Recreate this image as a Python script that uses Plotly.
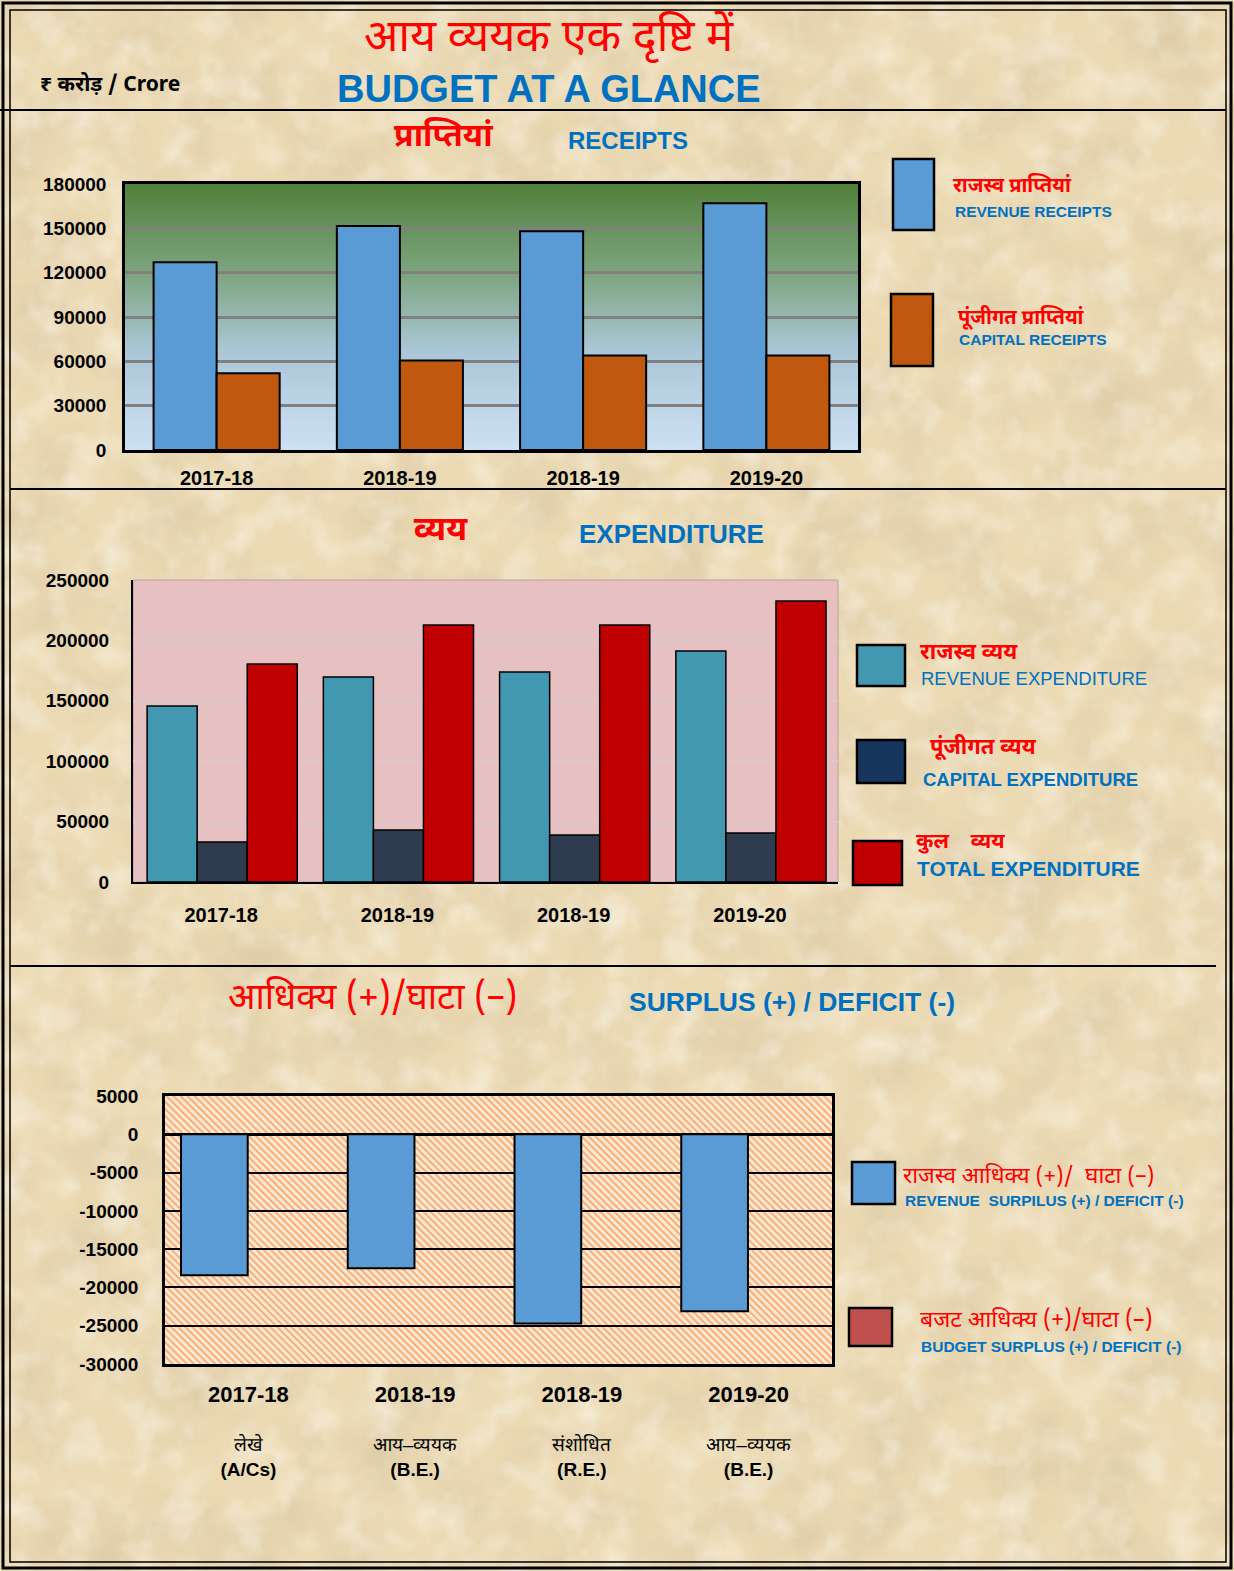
import base64
import plotly.graph_objects as go

W, H = 1234, 1571

# ---------------- data ----------------
years = ["2017-18", "2018-19", "2018-19", "2019-20"]
stage_hi = ["लेखे", "आय–व्ययक", "संशोधित", "आय–व्ययक"]
stage_en = ["(A/Cs)", "(B.E.)", "(R.E.)", "(B.E.)"]

revenue_receipts = [127000, 151500, 148000, 167000]
capital_receipts = [52000, 60500, 64000, 64000]

revenue_exp = [145700, 169700, 173800, 191200]
capital_exp = [33100, 43000, 38900, 40600]
total_exp = [180400, 212700, 212700, 232600]

revenue_deficit = [-18400, -17500, -24700, -23100]
budget_deficit = [None, None, None, None]

y1_ticks = [0, 30000, 60000, 90000, 120000, 150000, 180000]
y2_ticks = [0, 50000, 100000, 150000, 200000, 250000]
y3_ticks = [5000, 0, -5000, -10000, -15000, -20000, -25000, -30000]

pos = list(range(len(years)))

HI = "Noto Sans Devanagari, Lohit Devanagari, Noto Sans, sans-serif"
EN = "Liberation Sans, Arial, sans-serif"
NARROW = "Liberation Sans Narrow, Arial Narrow, Liberation Sans, sans-serif"
RED = "#FF0000"
BLUE = "#0070C0"


def fx(p):
    return p / W


def fy(p):
    return 1 - p / H


def uri(svg):
    return "data:image/svg+xml;base64," + base64.b64encode(svg.encode("utf-8")).decode()


texture = f"""<svg xmlns='http://www.w3.org/2000/svg' width='{W}' height='{H}'>
<filter id='n' x='0' y='0' width='100%' height='100%'>
<feTurbulence type='fractalNoise' baseFrequency='0.014' numOctaves='5' seed='7'/>
<feColorMatrix type='matrix' values='0 0 0 0 0.62  0 0 0 0 0.50  0 0 0 0 0.32  0.9 0 0 0 -0.38'/>
</filter>
<filter id='m' x='0' y='0' width='100%' height='100%'>
<feTurbulence type='fractalNoise' baseFrequency='0.03' numOctaves='3' seed='2'/>
<feColorMatrix type='matrix' values='0 0 0 0 1  0 0 0 0 0.98  0 0 0 0 0.92  0 1.0 0 0 -0.45'/>
</filter>
<rect width='100%' height='100%' fill='#EBDAB4'/>
<rect width='100%' height='100%' filter='url(#n)'/>
<rect width='100%' height='100%' filter='url(#m)'/>
</svg>"""

grad = """<svg xmlns='http://www.w3.org/2000/svg' width='733' height='266'>
<defs><linearGradient id='g' x1='0' y1='0' x2='0' y2='1'>
<stop offset='0' stop-color='#52803A'/><stop offset='0.35' stop-color='#7FA683'/>
<stop offset='0.62' stop-color='#AAC6D6'/><stop offset='1' stop-color='#CDE0F4'/>
</linearGradient></defs><rect width='100%' height='100%' fill='url(#g)'/></svg>"""

hatch = """<svg xmlns='http://www.w3.org/2000/svg' width='667' height='268'>
<defs><pattern id='p' width='5' height='5' patternUnits='userSpaceOnUse' patternTransform='rotate(-45)'>
<rect width='5' height='5' fill='#FDE8D2'/><rect width='2' height='5' fill='#F7AF7A'/></pattern></defs>
<rect width='100%' height='100%' fill='url(#p)'/></svg>"""

fig = go.Figure()

# ---------- chart 1: receipts ----------
bw1 = 0.344
fig.add_trace(go.Bar(x=pos, y=revenue_receipts, width=bw1, offset=-bw1, marker=dict(color="#5B9BD5", line=dict(color="black", width=2)),
                     xaxis="x", yaxis="y", showlegend=False, hoverinfo="y"))
fig.add_trace(go.Bar(x=pos, y=capital_receipts, width=bw1, offset=0, marker=dict(color="#C0580F", line=dict(color="black", width=2)),
                     xaxis="x", yaxis="y", showlegend=False, hoverinfo="y"))

# ---------- chart 2: expenditure ----------
bw2 = 0.284
fig.add_trace(go.Bar(x=pos, y=revenue_exp, width=bw2, offset=-0.42, marker=dict(color="#4298B0", line=dict(color="black", width=1.5)),
                     xaxis="x2", yaxis="y2", showlegend=False, hoverinfo="y"))
fig.add_trace(go.Bar(x=pos, y=capital_exp, width=bw2, offset=-0.42 + bw2, marker=dict(color="#2F3C50", line=dict(color="black", width=1.5)),
                     xaxis="x2", yaxis="y2", showlegend=False, hoverinfo="y"))
fig.add_trace(go.Bar(x=pos, y=total_exp, width=bw2, offset=-0.42 + 2 * bw2, marker=dict(color="#C00000", line=dict(color="black", width=1.5)),
                     xaxis="x2", yaxis="y2", showlegend=False, hoverinfo="y"))

# ---------- chart 3: surplus / deficit ----------
bw3 = 0.40
fig.add_trace(go.Bar(x=pos, y=revenue_deficit, width=bw3, offset=-0.404, marker=dict(color="#5B9BD5", line=dict(color="black", width=2)),
                     xaxis="x3", yaxis="y3", showlegend=False, hoverinfo="y"))
fig.add_trace(go.Bar(x=pos, y=budget_deficit, width=bw3, offset=-0.004, marker=dict(color="#C0504D", line=dict(color="black", width=2)),
                     xaxis="x3", yaxis="y3", showlegend=False, hoverinfo="y"))

tickfont = dict(family=NARROW, size=19, color="black")
tickfont_x = dict(family=NARROW, size=20, color="black")


def ylabels(vals):
    return [f"<b>{v}</b>" for v in vals]


ticktext3 = [f"<b style='font-size:22px'>{y}</b><br> <br>{h}<br><b>{e}</b>"
             for y, h, e in zip(years, stage_hi, stage_en)]

fig.update_layout(
    width=W, height=H, margin=dict(l=0, r=0, t=0, b=0, pad=0, autoexpand=False),
    paper_bgcolor="#EBDAB4", plot_bgcolor="rgba(0,0,0,0)",
    barmode="overlay",
    xaxis=dict(domain=[fx(125), fx(858)], range=[-0.5, 3.5], tickvals=pos, ticktext=[f"<b>{y}</b>" for y in years],
               tickfont=tickfont_x, showline=True, mirror=True, linecolor="black", linewidth=2.5, ticks="", showgrid=False,
               anchor="y", fixedrange=True, automargin=False, ticklabelstandoff=8),
    yaxis=dict(domain=[fy(450), fy(184)], range=[0, 180000], tickvals=y1_ticks, ticktext=ylabels(y1_ticks), tickfont=tickfont,
               showline=True, mirror=True, linecolor="black", linewidth=2.5, gridcolor="#808080", gridwidth=2.5,
               zeroline=False, anchor="x", ticklabelstandoff=12, fixedrange=True, automargin=False),
    xaxis2=dict(domain=[fx(133), fx(838)], range=[-0.5, 3.5], tickvals=pos, ticktext=[f"<b>{y}</b>" for y in years],
                tickfont=tickfont_x, showline=True, linecolor="black", linewidth=2, ticks="", showgrid=False,
                anchor="y2", fixedrange=True, automargin=False, ticklabelstandoff=14),
    yaxis2=dict(domain=[fy(882), fy(580)], range=[0, 250000], tickvals=y2_ticks, ticktext=ylabels(y2_ticks), tickfont=tickfont,
                showline=True, linecolor="black", linewidth=2, gridcolor="#D9C9CA", gridwidth=1.5,
                zeroline=False, anchor="x2", ticklabelstandoff=18, fixedrange=True, automargin=False),
    xaxis3=dict(domain=[fx(165), fx(832)], range=[-0.5, 3.5], tickvals=pos, ticktext=ticktext3,
                tickfont=dict(family=NARROW, size=19, color="black"), showline=True, mirror=True, linecolor="black",
                linewidth=2.5, ticks="", showgrid=False, anchor="y3", ticklabelstandoff=12, fixedrange=True, automargin=False),
    yaxis3=dict(domain=[fy(1364), fy(1096)], range=[-30000, 5000], tickvals=y3_ticks, ticktext=ylabels(y3_ticks), tickfont=tickfont,
                showline=True, mirror=True, linecolor="black", linewidth=2.5, gridcolor="black", gridwidth=1.5,
                zeroline=True, zerolinecolor="black", zerolinewidth=2.5, anchor="x3", ticklabelstandoff=20, fixedrange=True,
                automargin=False),
)

# ---------- background images ----------
fig.add_layout_image(source=uri(texture), xref="paper", yref="paper", x=0, y=1, sizex=1, sizey=1,
                     sizing="stretch", xanchor="left", yanchor="top", layer="below")
fig.add_layout_image(source=uri(grad), xref="paper", yref="paper", x=fx(125), y=fy(184), sizex=fx(858) - fx(125),
                     sizey=fy(184) - fy(450), sizing="stretch", xanchor="left", yanchor="top", layer="below")
fig.add_layout_image(source=uri(hatch), xref="paper", yref="paper", x=fx(165), y=fy(1096), sizex=fx(832) - fx(165),
                     sizey=fy(1096) - fy(1364), sizing="stretch", xanchor="left", yanchor="top", layer="below")

shapes = []
# pink background of chart 2
shapes.append(dict(type="rect", xref="paper", yref="paper", x0=fx(133), x1=fx(838), y0=fy(882), y1=fy(580),
                   fillcolor="#E7C1C1", line=dict(color="#B8A0A0", width=1), layer="below"))

# page borders
shapes.append(dict(type="rect", xref="paper", yref="paper", x0=fx(3), x1=fx(1231), y0=fy(1568), y1=fy(3),
                   line=dict(color="black", width=3), layer="above"))
shapes.append(dict(type="rect", xref="paper", yref="paper", x0=fx(10), x1=fx(1226), y0=fy(1562), y1=fy(10),
                   line=dict(color="black", width=1.5), layer="above"))
# separators
for y0, xa, xb in [(110, 0, 1226), (489, 10, 1226), (966, 10, 1216)]:
    shapes.append(dict(type="line", xref="paper", yref="paper", x0=fx(xa), x1=fx(xb), y0=fy(y0), y1=fy(y0),
                       line=dict(color="black", width=2), layer="above"))


def box(x0, x1, y0, y1, color):
    shapes.append(dict(type="rect", xref="paper", yref="paper", x0=fx(x0), x1=fx(x1), y0=fy(y1), y1=fy(y0),
                       fillcolor=color, line=dict(color="black", width=2.5), layer="above"))


box(893, 934, 159, 230, "#5B9BD5")
box(891, 933, 294, 366, "#C0580F")
box(857, 905, 645, 686, "#4298B0")
box(857, 905, 740, 783, "#17365D")
box(853, 902, 841, 885, "#C00000")
box(852, 895, 1162, 1204, "#5B9BD5")
box(849, 892, 1308, 1346, "#C0504D")
fig.update_layout(shapes=shapes)


def txt(x, y, s, size, color, family, anchor="left", bold=True):
    fig.add_annotation(x=fx(x), y=fy(y), xref="paper", yref="paper", text=f"<b>{s}</b>" if bold else s,
                       showarrow=False, xanchor=anchor, yanchor="middle",
                       font=dict(size=size, color=color, family=family))


# header
txt(549, 40, "आय व्ययक एक दृष्टि में", 45, RED, HI, "center", bold=False)
txt(549, 89, "BUDGET AT A GLANCE", 38, BLUE, NARROW, "center")
txt(38, 86, "₹ करोड़ / Crore", 21, "black", HI)

# section titles
txt(443, 138, "प्राप्तियां", 32, RED, HI, "center")
txt(628, 141, "RECEIPTS", 24, BLUE, EN, "center")
txt(440, 532, "व्यय", 33, RED, HI, "center")
txt(672, 534, "EXPENDITURE", 26, BLUE, EN, "center")
txt(372, 1000, "आधिक्य (+)/घाटा (–)", 36, RED, HI, "center", bold=False)
txt(792, 1002, "SURPLUS (+) / DEFICIT (-)", 26.5, BLUE, EN, "center")

# legends
txt(951, 186, "राजस्व प्राप्तियां", 20, RED, HI)
txt(953, 211, "REVENUE RECEIPTS", 15.5, BLUE, EN)
txt(956, 318, "पूंजीगत प्राप्तियां", 20, RED, HI)
txt(957, 339, "CAPITAL RECEIPTS", 15.5, BLUE, EN)

txt(918, 653, "राजस्व व्यय", 22, RED, HI)
txt(919, 679, "REVENUE EXPENDITURE", 18.5, BLUE, EN, bold=False)
txt(928, 749, "पूंजीगत व्यय", 22, RED, HI)
txt(921, 779, "CAPITAL EXPENDITURE", 18.5, BLUE, EN)
txt(914, 843, "कुल &nbsp;&nbsp; व्यय", 21, RED, HI)
txt(915, 868, "TOTAL EXPENDITURE", 21, BLUE, EN)

txt(901, 1177, "राजस्व आधिक्य (+)/  घाटा (–)", 22.5, RED, HI, bold=False)
txt(903, 1200, "REVENUE &nbsp;SURPILUS (+) / DEFICIT (-)", 15.5, BLUE, EN)
txt(918, 1321, "बजट आधिक्य (+)/घाटा (–)", 23, RED, HI, bold=False)
txt(919, 1346, "BUDGET SURPLUS (+) / DEFICIT (-)", 15.5, BLUE, EN)

fig.write_html("out.html", config={"displayModeBar": False}, post_script="document.body.style.margin='0';")
